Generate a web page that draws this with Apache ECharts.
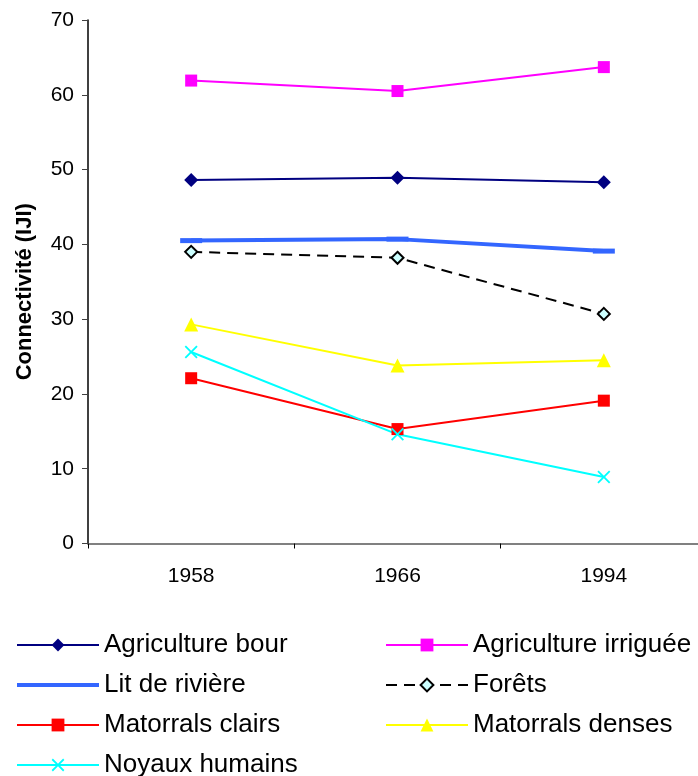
<!DOCTYPE html>
<html>
<head>
<meta charset="utf-8">
<script src="https://cdn.jsdelivr.net/npm/echarts@6/dist/echarts.min.js"></script>
<style>
  html, body { margin: 0; padding: 0; background: #ffffff; }
  #chart { width: 698px; height: 776px; }
</style>
</head>
<body>
<div id="chart"></div>
<script>
// Connectivity index (IJI) by land-cover class
const years = ['1958', '1966', '1994'];
const agricultureBour = [48.6, 48.9, 48.3];
const agricultureIrriguee = [61.9, 60.5, 63.7];
const litDeRiviere = [40.5, 40.7, 39.1];
const forets = [39.0, 38.2, 30.7];
const matorralsClairs = [22.1, 15.3, 19.1];
const matorralsDenses = [29.3, 23.8, 24.5];
const noyauxHumains = [25.6, 14.6, 8.9];

const FONT = '"Liberation Sans", Arial, sans-serif';
const CROSS = 'path://M0,1 L1,0 L5,4 L9,0 L10,1 L6,5 L10,9 L9,10 L5,6 L1,10 L0,9 L4,5 Z';
const THICK_LINE = 'path://M0,0 L0,16 M0,6 L82,6 L82,10 L0,10 Z';

function lineSeries(name, data, color, symbol, size, extra) {
  return Object.assign({
    name: name,
    type: 'line',
    data: data,
    symbol: symbol,
    symbolSize: size,
    lineStyle: { color: color, width: 2 },
    itemStyle: { color: color },
    emphasis: { disabled: true },
    animation: false,
    z: 3
  }, extra || {});
}

const series = [
  lineSeries('Agriculture bour', agricultureBour, '#000080', 'diamond', 14),
  lineSeries('Agriculture irriguée', agricultureIrriguee, '#ff00ff', 'rect', 12),
  lineSeries('Lit de rivière', litDeRiviere, '#3366ff', 'rect', [22, 5], {
    lineStyle: { color: '#3366ff', width: 4 }
  }),
  lineSeries('Forêts', forets, '#000000', 'diamond', 12, {
    lineStyle: { color: '#000000', width: 2, type: [11, 7] },
    itemStyle: { color: '#ccffff', borderColor: '#000000', borderWidth: 2 }
  }),
  lineSeries('Matorrals clairs', matorralsClairs, '#ff0000', 'rect', 12),
  lineSeries('Matorrals denses', matorralsDenses, '#ffff00', 'triangle', 14),
  lineSeries('Noyaux humains', noyauxHumains, '#00ffff', CROSS, 13)
];

const legendBase = {
  orient: 'vertical',
  itemWidth: 82,
  itemHeight: 16,
  itemGap: 12,
  padding: 0,
  height: 200,
  selectedMode: false,
  textStyle: { fontFamily: FONT, fontSize: 26, color: '#000000', lineHeight: 28 }
};

const option = {
  backgroundColor: '#ffffff',
  animation: false,
  grid: { left: 88, top: 20, right: -9, bottom: 232.5, containLabel: false, outerBoundsMode: 'none' },
  xAxis: {
    type: 'category',
    data: years,
    boundaryGap: true,
    axisLine: { lineStyle: { color: '#808080', width: 2 } },
    axisTick: { show: true, length: 5, lineStyle: { color: '#000000', width: 1 } },
    axisLabel: { fontFamily: FONT, fontSize: 21, color: '#000000', margin: 22 },
    splitLine: { show: false }
  },
  yAxis: {
    type: 'value',
    min: 0,
    max: 70,
    interval: 10,
    name: 'Connectivité (IJI)',
    nameLocation: 'middle',
    nameGap: 52,
    nameTextStyle: {
      fontFamily: FONT, fontSize: 22, fontWeight: 'bold', color: '#000000',
      padding: [0, 20, 0, 0]
    },
    axisLine: { show: true, lineStyle: { color: '#000000', width: 1.5 } },
    axisTick: { show: true, length: 6, lineStyle: { color: '#404040', width: 1 } },
    axisLabel: { fontFamily: FONT, fontSize: 21, color: '#000000', margin: 14 },
    splitLine: { show: false }
  },
  legend: [
    Object.assign({}, legendBase, {
      left: 16, top: 631,
      data: [
        { name: 'Agriculture bour' },
        { name: 'Lit de rivière', icon: THICK_LINE, itemStyle: { color: '#3366ff' } },
        { name: 'Matorrals clairs' },
        { name: 'Noyaux humains' }
      ]
    }),
    Object.assign({}, legendBase, {
      left: 385, top: 631,
      data: ['Agriculture irriguée', 'Forêts', 'Matorrals denses']
    })
  ],
  series: series
};

const chart = echarts.init(document.getElementById('chart'), null, { renderer: 'canvas' });
chart.setOption(option);
</script>
</body>
</html>
